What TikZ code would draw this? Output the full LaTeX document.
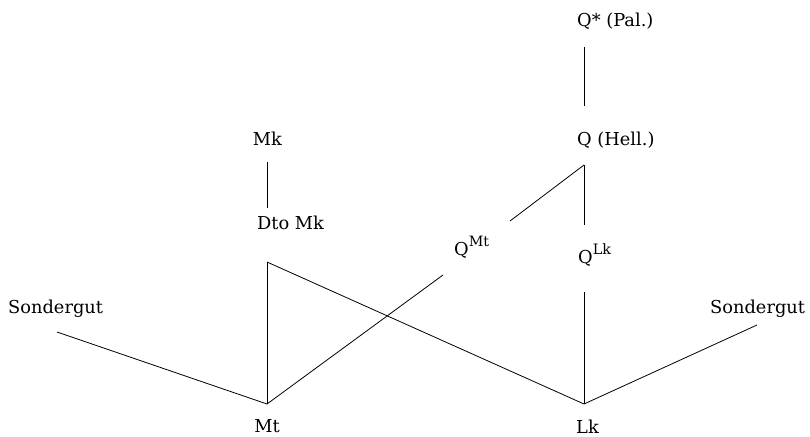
\documentclass[tikz,border=0pt]{standalone}
\usepackage{fontspec}
\setmainfont{DejaVu Serif}
\newcommand{\supx}[1]{\raisebox{9pt}{\fontsize{14.3}{14.3}\selectfont #1}}
\begin{document}
\begin{tikzpicture}[x=1pt,y=-1pt,
  lbl/.style={inner sep=0pt, anchor=base west, font=\fontsize{17.8}{20}\selectfont},
  lblc/.style={lbl, anchor=base},
  link/.style={line width=0.8pt, line cap=butt}]
\useasboundingbox (0,0) rectangle (810,436);

% labels
\node[lbl]  (qpal)  at (577,27)  {Q* (Pal.)};
\node[lbl]  (qhell) at (577,145) {Q (Hell.)};
\node[lblc] (mk)    at (267.5,145) {Mk};
\node[lbl]  (dto)   at (257,229) {Dto Mk};
\node[lbl]  (qmt)   at (454,255) {Q\supx{Mt}};
\node[lbl]  (qlk)   at (578,263) {Q\supx{Lk}};
\node[lbl]  (sgl)   at (8,313)   {Sondergut};
\node[lbl]  (sgr)   at (710,313) {Sondergut};
\node[lblc] (mt)    at (267,432) {Mt};
\node[lbl]  (lk)    at (576,433) {Lk};

% line ends
\coordinate (qpal-b)  at (584,47);
\coordinate (qhell-t) at (584,106);
\coordinate (qhell-b) at (584,165);
\coordinate (mk-b)    at (267,162);
\coordinate (dto-t)   at (267,208);
\coordinate (dto-b)   at (267,262);
\coordinate (qmt-t)   at (510,221);
\coordinate (qmt-b)   at (443,275);
\coordinate (qlk-t)   at (584,225);
\coordinate (qlk-b)   at (584,292);
\coordinate (sgl-b)   at (57,332);
\coordinate (sgr-b)   at (757,325);
\coordinate (mt-t)    at (267,404);
\coordinate (lk-t)    at (584,404);

% stemma
\draw[link] (qpal-b) -- (qhell-t);
\draw[link] (qhell-b) -- (qmt-t);
\draw[link] (qhell-b) -- (qlk-t);
\draw[link] (mk-b) -- (dto-t);
\draw[link] (dto-b) -- (mt-t);
\draw[link] (dto-b) -- (lk-t);
\draw[link] (qmt-b) -- (mt-t);
\draw[link] (qlk-b) -- (lk-t);
\draw[link] (sgl-b) -- (mt-t);
\draw[link] (sgr-b) -- (lk-t);
\end{tikzpicture}
\end{document}
